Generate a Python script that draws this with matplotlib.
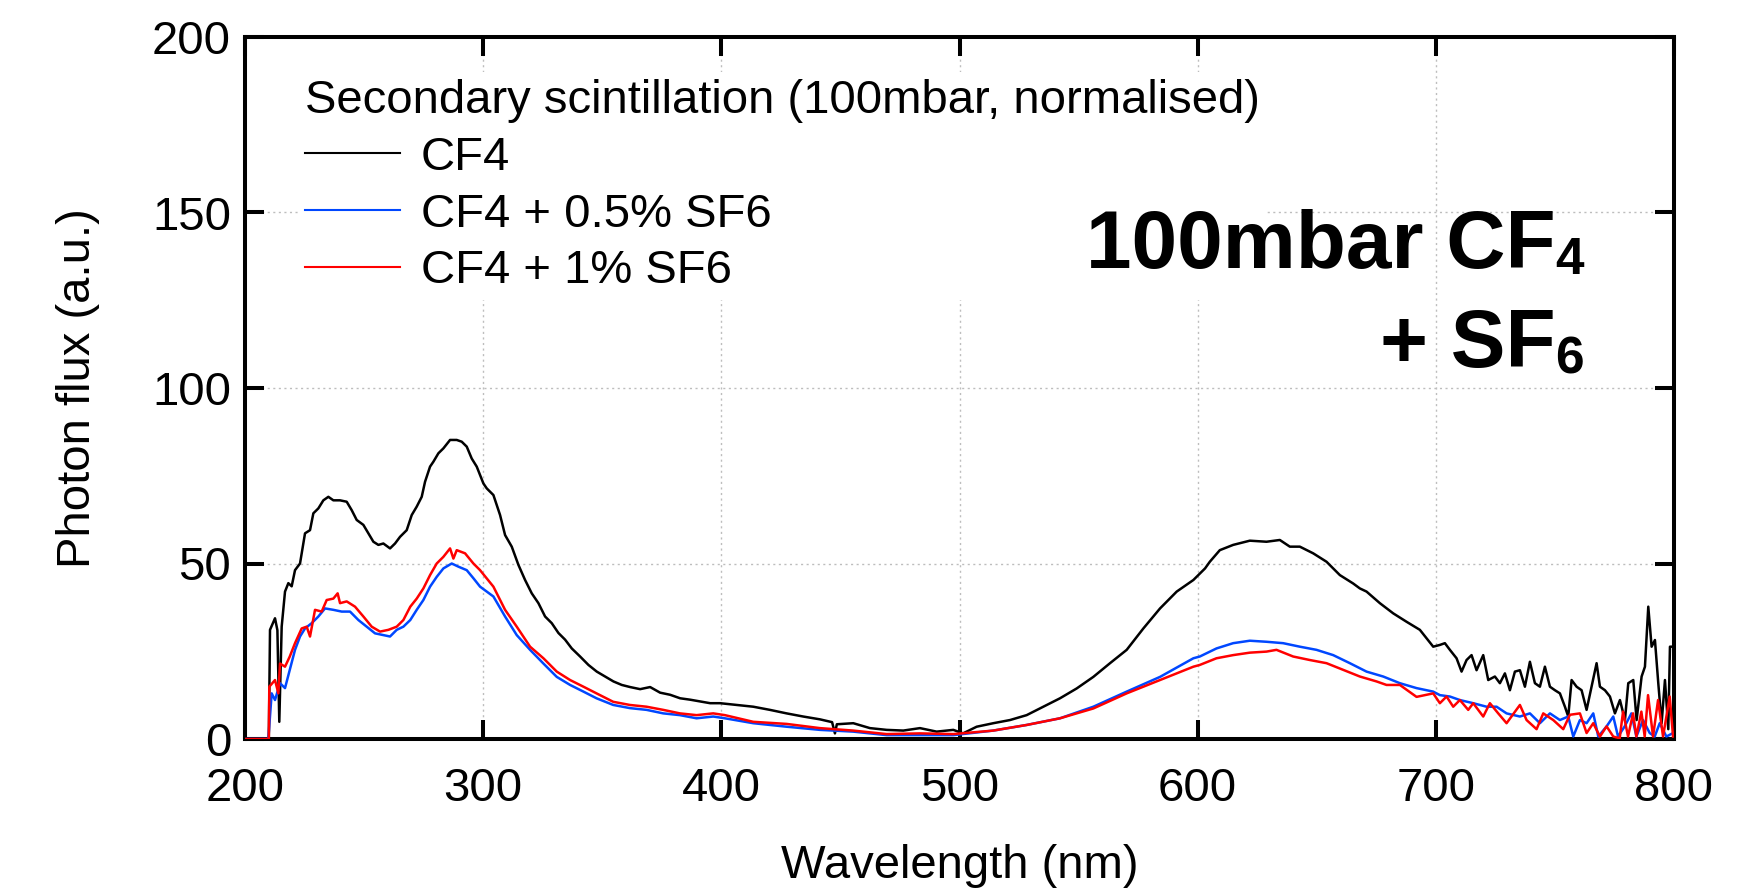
import matplotlib
matplotlib.use("Agg")
import matplotlib.pyplot as plt
from matplotlib.lines import Line2D

plt.rcParams['font.family'] = ['Liberation Sans', 'DejaVu Sans']

# ---------------- data ----------------
wl_cf4 = [200, 210, 210.5, 212.6, 213.6, 214.4, 215.4, 216.8, 218.2, 219.6, 221, 223.1, 225.2, 227.3,
          228.7, 230.8, 232.9, 235, 237.1, 239.9, 242.7, 244.8, 246.9, 249.7, 251.8, 253.9, 256, 258.1,
          260.9, 263, 265.1, 267.9, 270, 272.1, 274.2, 275.6, 277.7, 279.1, 281.2, 283.3, 286.1, 288.9,
          291, 293.1, 295.2, 297.3, 300.1, 301.5, 304.3, 307.1, 309.2, 312, 314.8, 317.6, 320.4, 323.2,
          326, 328.8, 331.6, 334.4, 337.2, 340.7, 344.2, 347.7, 351.2, 354.7, 358.2, 361.7, 365.9, 370.1,
          374.3, 378.5, 382.7, 386.9, 391.1, 395.3, 399.5, 406.4, 413.4, 420.4, 427.4, 434.4, 441.4, 446.5,
          447.7, 448.5, 455.4, 462.4, 469.4, 476.4, 483.4, 490.4, 497.4, 501.5, 507.2, 514.2, 521.2, 528.2,
          535.2, 542.2, 549.2, 556.2, 563.2, 570.2, 577.2, 584.2, 591.2, 598.2, 603.1, 605.1, 609.3, 614.9,
          621.9, 628.9, 634.5, 638.7, 642.9, 648.5, 654.1, 659.7, 665.3, 668.1, 670.9, 676.5, 682.1, 687.7,
          693.3, 698.9, 701.7, 703.8, 705.9, 708.7, 710.8, 712.9, 715, 717.1, 719.9, 722, 724.8, 726.9,
          729, 731.1, 733.2, 735.3, 737.4, 739.5, 741.6, 743.7, 745.8, 747.9, 750, 752.1, 754.2, 755.6,
          757, 759.1, 761.2, 763.3, 765.4, 767.5, 768.9, 771, 773.1, 775.2, 777.3, 779.4, 780.8, 782.9,
          784.3, 786.4, 787.8, 789.2, 790.6, 792, 793.4, 794.8, 796.2, 797.6, 798.3, 799.7]
flux_cf4 = [0, 0, 31.1, 34.4, 31, 4.9, 32, 42, 44.4, 43.5, 48.1, 50, 58.6, 59.5,
            64.3, 65.7, 68, 69, 68, 68, 67.6, 65.2, 62.4, 61, 58.6, 56.2, 55.3, 55.7,
            54.3, 55.7, 57.6, 59.5, 63.8, 66.2, 69, 73.3, 77.6, 79, 81.4, 82.8, 85.2, 85.2,
            84.7, 83.3, 79.9, 77.6, 72.8, 71.4, 69.5, 63.8, 58.1, 54.8, 49.6, 45.3, 41.5, 38.7,
            34.9, 33, 30.2, 28.3, 25.8, 23.5, 21.1, 19.2, 17.8, 16.4, 15.4, 14.8, 14.2, 14.8,
            13.2, 12.6, 11.6, 11.2, 10.7, 10.2, 10.2, 9.7, 9.2, 8.3, 7.3, 6.4, 5.6, 4.8,
            1.6, 4.2, 4.5, 3.1, 2.6, 2.4, 3.1, 2.1, 2.6, 1.6, 3.5, 4.5, 5.4, 6.8,
            9.2, 11.6, 14.4, 17.7, 21.6, 25.4, 31.5, 37.2, 42, 45.3, 48.6, 50.5, 53.8, 55.3,
            56.5, 56.2, 56.7, 54.8, 54.8, 52.9, 50.5, 46.7, 44.3, 42.9, 42, 38.7, 35.8, 33.4,
            31.1, 26.3, 26.8, 27.3, 25.4, 23, 19.2, 22.5, 23.9, 19.6, 23.9, 16.8, 17.8, 15.9,
            18.7, 13.9, 19.2, 19.6, 14.9, 22, 15.9, 14.9, 20.6, 14.9, 13.9, 13, 9.2, 6.4,
            16.8, 14.9, 13.9, 8.3, 14.9, 21.6, 14.9, 13.9, 12.1, 7.3, 11.1, 5.4, 15.9, 16.8,
            5.4, 17.8, 20.6, 37.7, 26.3, 28.2, 15.9, 4.5, 16.8, 2.8, 26.3, 26.3]

wl_sf6_05 = [200, 209.8, 211.2, 212.6, 214.7, 216.8, 218.8, 221, 223.1, 225.2, 228, 230.8, 233.6, 237.1,
             240.6, 244.1, 247.6, 251.1, 254.6, 258.1, 260.9, 263.7, 266.5, 269.4, 272.1, 274.9, 277.7,
             280.5, 283.3, 286.8, 289.6, 293.1, 295.9, 298.7, 304.3, 309.2, 314.1, 319.7, 325.3, 330.9,
             336.5, 342.1, 347.6, 354.6, 361.6, 368.6, 375.6, 382.6, 389.6, 396.6, 401.5, 413.4, 427.4,
             441.4, 455.4, 469.4, 483.4, 497.4, 514.2, 528.2, 542.2, 556.2, 570.2, 584.2, 598.2, 600.9,
             607.9, 614.9, 621.9, 628.9, 635.9, 642.9, 649.9, 656.9, 663.9, 670.9, 677.9, 684.9, 691.9,
             698.9, 701.7, 705.9, 710.1, 715.7, 721.3, 725.5, 729.7, 735.3, 739.5, 743.7, 747.9, 752.1,
             755.6, 757.7, 760.5, 763.3, 766.1, 768.2, 771.7, 774.5, 776.5, 779.3, 782.1, 784.2, 787.0,
             789.8, 791.9, 794.0, 796.8, 799.6]
flux_sf6_05 = [0, 0, 13, 11.1, 15.9, 14.5, 19.7, 25.4, 29.2, 31.5, 33, 34.9, 37.2, 36.8,
               36.3, 36.3, 33.9, 32, 30.1, 29.6, 29.2, 31.1, 32, 33.9, 36.8, 39.6, 43.4,
               46.2, 48.6, 50, 49.1, 48.1, 45.8, 43.4, 40.6, 34.9, 29.6, 25.4, 21.5, 17.7,
               15.4, 13.5, 11.6, 9.7, 8.8, 8.3, 7.3, 6.8, 5.9, 6.4, 5.9, 4.5, 3.5,
               2.6, 2.1, 1.1, 1.1, 1.1, 2.4, 4.0, 5.9, 9.2, 13.5, 17.7, 23, 23.5,
               25.8, 27.3, 28, 27.7, 27.3, 26.3, 25.4, 23.9, 21.6, 19.2, 17.8, 15.9, 14.5,
               13.5, 12.5, 12.1, 11.1, 10.2, 9.2, 9.2, 7.3, 6.4, 7.3, 4.5, 7.3, 5.4,
               6.4, 0.7, 5.4, 4.5, 7.3, 0.7, 3.6, 6.4, 0.7, 3.6, 7.3, 0.7, 5.4,
               1.7, 0.7, 4.5, 0.7, 1.7]

wl_sf6_1 = [200, 210, 210.2, 212.6, 214, 214.7, 216.8, 218.8, 221, 223.8, 225.9, 227.3, 229.4, 232.2,
            234.3, 237.1, 238.9, 239.9, 242.7, 246.2, 249.7, 253.2, 256.7, 260.2, 263.7, 266.5, 269.4,
            272.1, 274.9, 277.7, 280.5, 283.3, 286.1, 287.5, 288.9, 292.4, 295.9, 298.7, 304.3, 309.2,
            314.1, 319.7, 325.3, 330.9, 336.5, 342.1, 347.6, 354.6, 361.6, 368.6, 375.6, 382.6, 389.6,
            396.6, 401.5, 413.4, 427.4, 441.4, 455.4, 469.4, 483.4, 497.4, 514.2, 528.2, 542.2, 556.2,
            570.2, 584.2, 598.2, 600.9, 607.9, 614.9, 621.9, 628.9, 633.1, 640.1, 647.1, 654.1, 661.1,
            668.1, 675.1, 679.3, 684.9, 691.9, 698.9, 701.7, 704.5, 707.3, 710.1, 713.6, 715.7, 719.9,
            722.7, 726.2, 729.7, 735.3, 738.1, 742.3, 745.1, 749.3, 753.5, 756.3, 760.5, 763.3, 766.1,
            768.9, 771.7, 774.5, 777.2, 778.6, 780.7, 782.8, 784.2, 786.3, 787.7, 789.1, 791.2, 793.3,
            795.4, 798.2, 799.6]
flux_sf6_1 = [0, 0, 14.9, 16.8, 13, 21.5, 20.6, 23.5, 27.3, 31.5, 32, 29.2, 36.8, 36.3,
              39.6, 40, 41.5, 38.7, 39.2, 37.7, 34.9, 32, 30.6, 31.1, 32, 33.9, 37.7,
              40, 42.9, 46.7, 50, 51.9, 54.3, 51.4, 53.8, 52.9, 50, 48.1, 43.4, 36.8,
              32, 26.3, 23, 19.2, 16.8, 14.9, 13, 10.6, 9.7, 9.2, 8.3, 7.3, 6.8,
              7.3, 6.8, 4.9, 4.3, 3.1, 2.4, 1.4, 1.6, 1.4, 2.4, 4.0, 5.9, 8.7,
              13, 16.8, 20.6, 21.1, 23, 23.9, 24.6, 24.9, 25.4, 23.5, 22.5, 21.6, 19.7,
              17.8, 16.4, 15.4, 15.4, 12.0, 13, 10.2, 12.1, 9.2, 11.1, 8.3, 10.2, 6.4,
              10.2, 7.3, 4.5, 9.7, 5.4, 2.8, 7.3, 5.4, 2.8, 6.9, 7.3, 1.7, 4.5,
              0.7, 3.6, 0.7, 0.2, 7.8, 0.7, 7.3, 0.7, 7.8, 0.7, 12.5, 0.7, 11.1,
              0.7, 12.1, 0.7]

labels = ["CF4", "CF4 + 0.5% SF6", "CF4 + 1% SF6"]
colors = ["#000000", "#0047ff", "#ff0000"]
legend_title = "Secondary scintillation (100mbar, normalised)"
xticks = [200, 300, 400, 500, 600, 700, 800]
yticks = [0, 50, 100, 150, 200]

# ---------------- figure ----------------
W, H = 1757, 896
fig = plt.figure(figsize=(W / 100, H / 100), dpi=100)
ax = fig.add_axes([245 / W, 1 - 739 / H, 1429 / W, 702 / H])

series = [(wl_cf4, flux_cf4), (wl_sf6_05, flux_sf6_05), (wl_sf6_1, flux_sf6_1)]
for (x, y), c, lab in zip(series, colors, labels):
    ax.plot(x, y, color=c, lw=1.8, label=lab, zorder=3)

ax.set_xlim(200, 800)
ax.set_ylim(0, 200)
ax.set_xticks(xticks)
ax.set_yticks(yticks)
ax.grid(True, color='#bdbdbd', linestyle=(0, (1.5, 2.5)), linewidth=1.0)
ax.set_axisbelow(True)

for sp in ax.spines.values():
    sp.set_linewidth(2.9)
ax.tick_params(direction='in', length=14, width=2.9, top=True, right=True,
               labelsize=34, colors='black')
ax.tick_params(axis='x', pad=20)
ax.tick_params(axis='y', pad=10)

ax.set_xlabel("Wavelength (nm)", fontsize=34, va='center')
ax.xaxis.set_label_coords(0.5, (739 - 866) / 702)
ax.set_ylabel("Photon flux (a.u.)", fontsize=34, va='center')
ax.yaxis.set_label_coords((78 - 245) / 1429, 0.5)

handles = [Line2D([], [], color=c, lw=1.5) for c in colors]
leg = ax.legend(handles, labels, title=legend_title, fontsize=34, title_fontsize=34,
                loc='upper left', bbox_to_anchor=((298 - 245) / 1429, (739 - 72) / 702),
                frameon=True, fancybox=False, framealpha=1, facecolor='white',
                edgecolor='none', borderpad=0.15, labelspacing=0.27,
                handlelength=2.0, handletextpad=0.45, borderaxespad=0,
                alignment='left')
leg.set_zorder(5)

# ---------------- big annotation with manual subscripts ----------------
main_fs = 59
sub_fs = 37
xr = (1584 - 245) / 1429
base1 = (739 - 268) / 702
base2 = (739 - 367) / 702
sub_off = 6 / 702

fig.canvas.draw()
renderer = fig.canvas.get_renderer()
inv = ax.transAxes.inverted()
for base, main_txt, sub_txt in [(base1, "100mbar CF", "4"), (base2, "+ SF", "6")]:
    s = ax.text(xr, base - sub_off, sub_txt, transform=ax.transAxes, ha='right', va='baseline',
                fontsize=sub_fs, fontweight='bold', zorder=6)
    bb = s.get_window_extent(renderer)
    x0 = inv.transform((bb.x0, bb.y0))[0]
    ax.text(x0, base, main_txt, transform=ax.transAxes, ha='right', va='baseline',
            fontsize=main_fs, fontweight='bold', zorder=6)

fig.savefig("out.png", dpi=100)
